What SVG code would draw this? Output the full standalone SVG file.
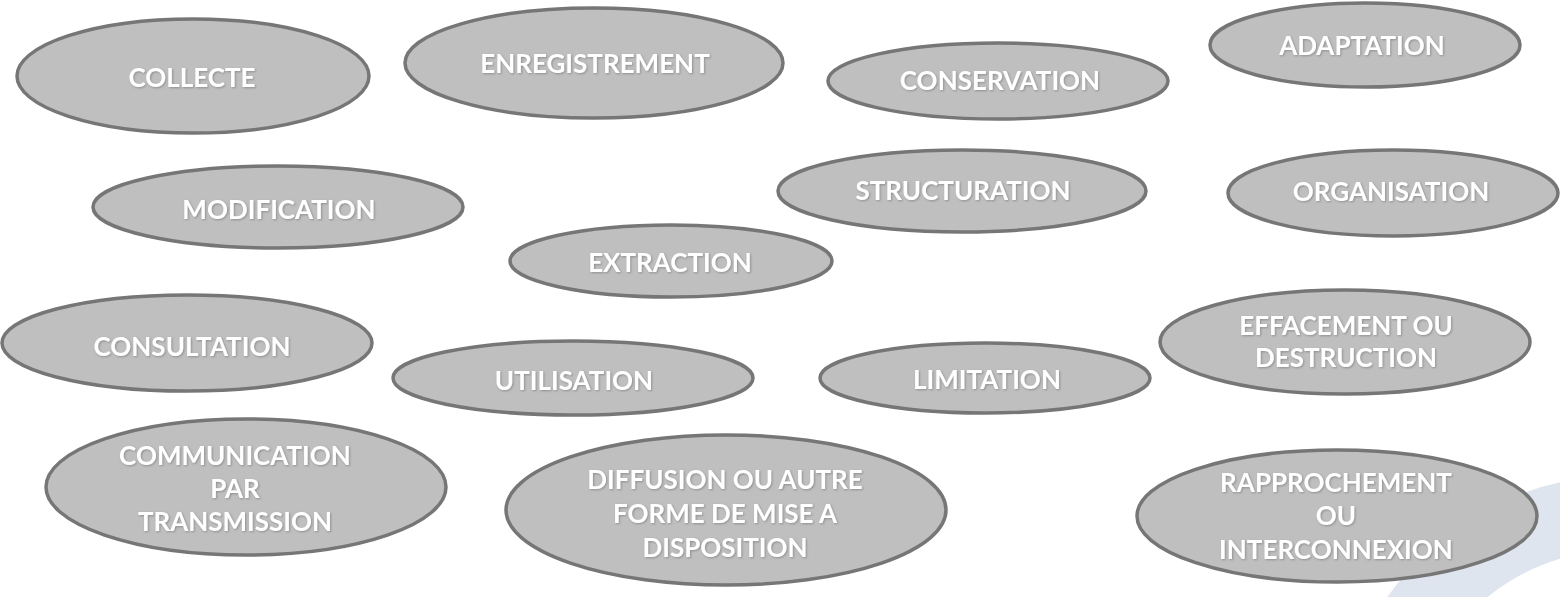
<svg xmlns="http://www.w3.org/2000/svg" width="1560" height="597" viewBox="0 0 1560 597">
  <defs>
    <style>
      .node ellipse { fill: #bfbfbf; stroke: #767676; stroke-width: 3.5; }
      .node text { font-family: Lato, "Open Sans", "Liberation Sans", sans-serif; font-weight: 700; font-size: 26px; fill: #ffffff; text-anchor: middle; dominant-baseline: central; filter: url(#shadow); }
    </style>
    <filter id="shadow" x="-10%" y="-30%" width="120%" height="160%">
      <feDropShadow dx="1" dy="1" stdDeviation="0.8" flood-color="#6e6e6e" flood-opacity="0.6"/>
    </filter>
  </defs>
  <rect x="0" y="0" width="1560" height="597" fill="#ffffff"/>
  <g id="background-swirl">
    <circle cx="1620" cy="760" r="247" fill="none" stroke="#dfe5ef" stroke-width="74"/>
  </g>
  <g id="connectors"></g>
  <g id="collecte" class="node">
    <ellipse cx="193" cy="76" rx="176" ry="57"/>
    <text x="192" y="77">COLLECTE</text>
  </g>
  <g id="enregistrement" class="node">
    <ellipse cx="594" cy="63" rx="189" ry="55"/>
    <text x="595" y="63">ENREGISTREMENT</text>
  </g>
  <g id="conservation" class="node">
    <ellipse cx="998" cy="81" rx="170" ry="38"/>
    <text x="1000" y="80">CONSERVATION</text>
  </g>
  <g id="adaptation" class="node">
    <ellipse cx="1365" cy="45" rx="155" ry="42"/>
    <text x="1362" y="45">ADAPTATION</text>
  </g>
  <g id="modification" class="node">
    <ellipse cx="278" cy="207" rx="185" ry="41"/>
    <text x="279" y="209">MODIFICATION</text>
  </g>
  <g id="structuration" class="node">
    <ellipse cx="962" cy="191" rx="184" ry="41"/>
    <text x="963" y="190">STRUCTURATION</text>
  </g>
  <g id="organisation" class="node">
    <ellipse cx="1393" cy="193" rx="165" ry="43"/>
    <text x="1391" y="191">ORGANISATION</text>
  </g>
  <g id="extraction" class="node">
    <ellipse cx="671" cy="261" rx="161" ry="36"/>
    <text x="670" y="262">EXTRACTION</text>
  </g>
  <g id="consultation" class="node">
    <ellipse cx="187" cy="343" rx="185" ry="48"/>
    <text x="192" y="346">CONSULTATION</text>
  </g>
  <g id="utilisation" class="node">
    <ellipse cx="573" cy="378" rx="180" ry="37"/>
    <text x="574" y="380">UTILISATION</text>
  </g>
  <g id="limitation" class="node">
    <ellipse cx="985" cy="378" rx="165" ry="35"/>
    <text x="987" y="379">LIMITATION</text>
  </g>
  <g id="effacement" class="node">
    <ellipse cx="1345" cy="342" rx="185" ry="52"/>
    <text x="1346" y="325">EFFACEMENT OU</text>
    <text x="1346" y="357">DESTRUCTION</text>
  </g>
  <g id="communication" class="node">
    <ellipse cx="246" cy="487" rx="200" ry="68"/>
    <text x="235" y="455">COMMUNICATION</text>
    <text x="235" y="488">PAR</text>
    <text x="235" y="521">TRANSMISSION</text>
  </g>
  <g id="diffusion" class="node">
    <ellipse cx="726" cy="510" rx="220" ry="75"/>
    <text x="725" y="479">DIFFUSION OU AUTRE</text>
    <text x="725" y="513">FORME DE MISE A</text>
    <text x="725" y="547">DISPOSITION</text>
  </g>
  <g id="rapprochement" class="node">
    <ellipse cx="1337" cy="516" rx="200" ry="66"/>
    <text x="1336" y="482">RAPPROCHEMENT</text>
    <text x="1336" y="515">OU</text>
    <text x="1336" y="549">INTERCONNEXION</text>
  </g>
</svg>
